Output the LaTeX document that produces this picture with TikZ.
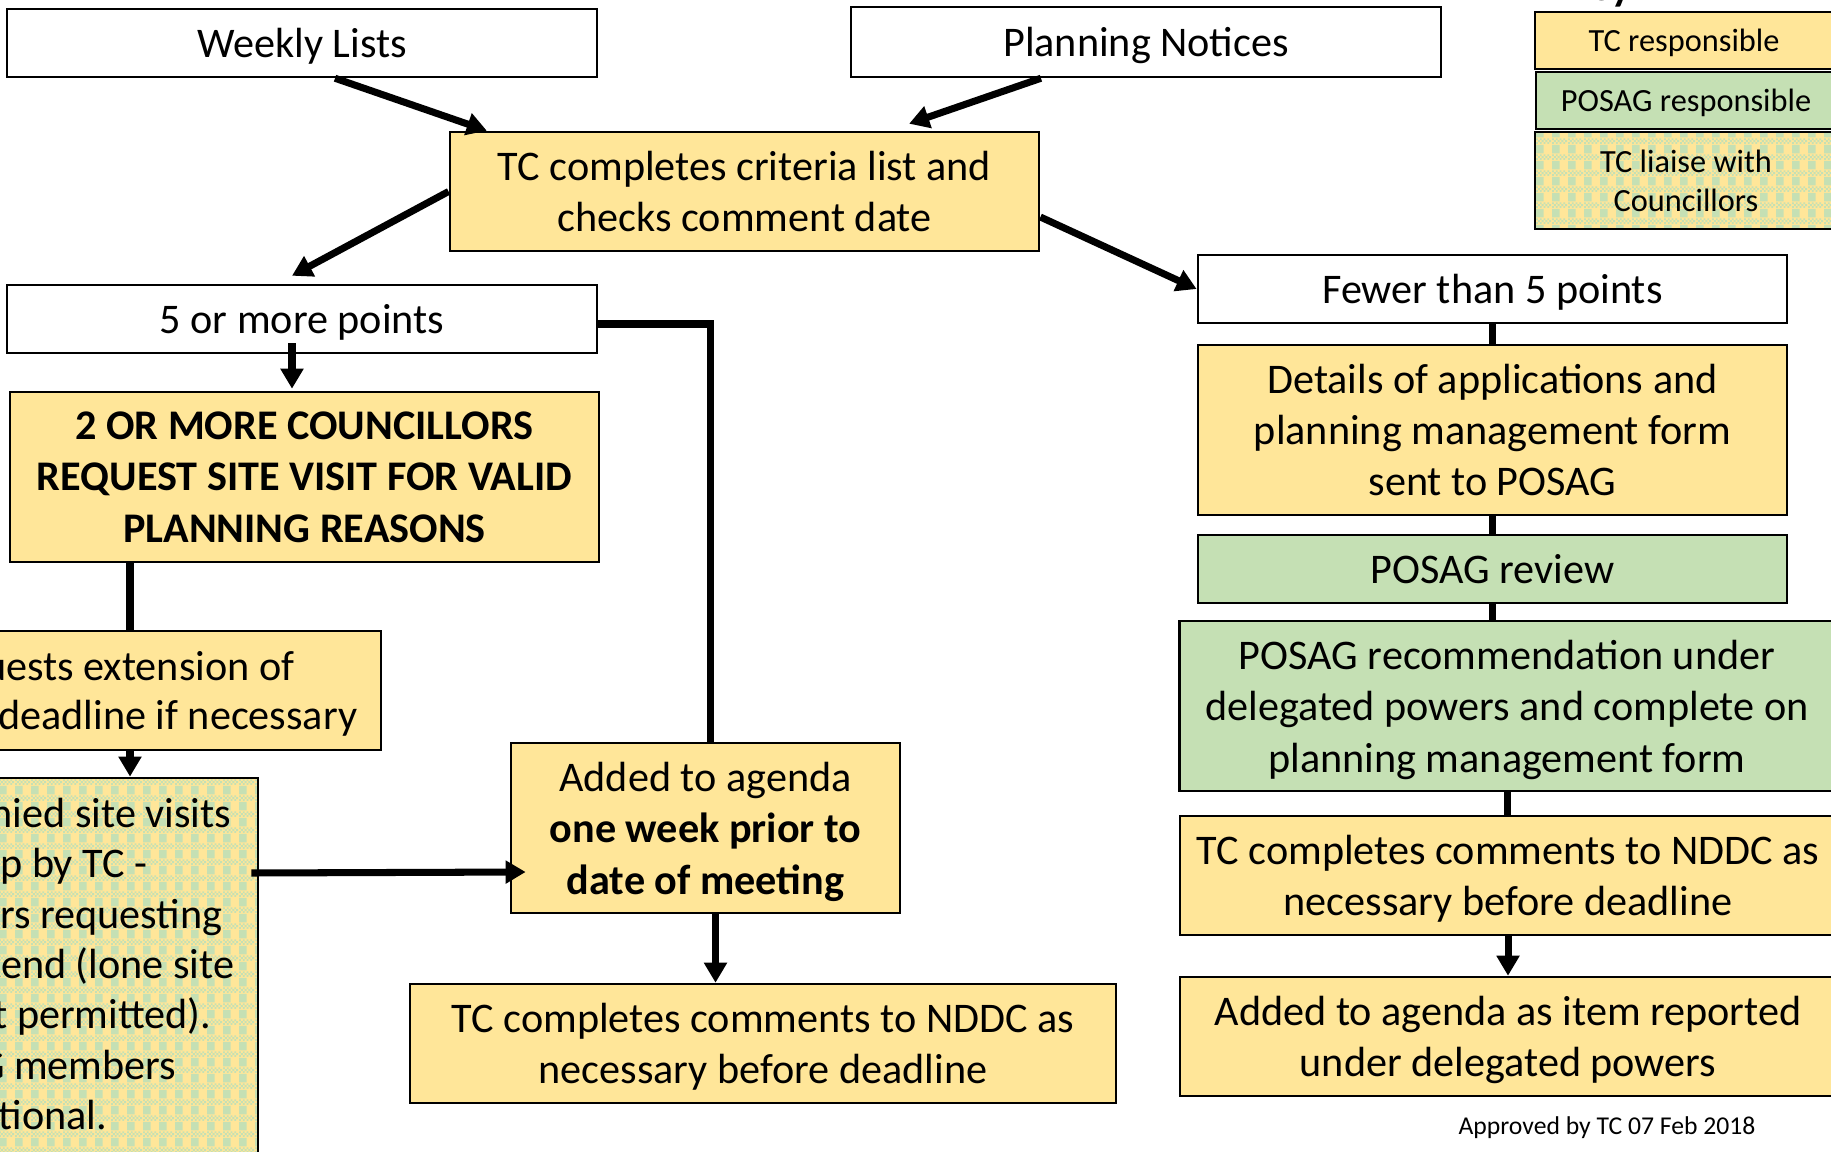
\documentclass[tikz,border=0pt]{standalone}
\usepackage{fontspec}
\setmainfont{Carlito}
\usetikzlibrary{arrows.meta,calc,patterns}

\definecolor{tcyellow}{HTML}{FFE699}
\definecolor{posaggreen}{HTML}{C5E0B4}

% yellow/green plaid for the liaise boxes
\pgfdeclarepatternformonly{plaid}{\pgfpointorigin}{\pgfpoint{0.16cm}{0.16cm}}{\pgfpoint{0.16cm}{0.16cm}}{%
  \pgfpathrectangle{\pgfpoint{0cm}{0.07cm}}{\pgfpoint{0.08cm}{0.09cm}}\pgfusepath{fill}%
  \foreach \x/\xx in {0/0.02,0.04/0.06,0.08/0.1,0.12/0.14}{%
    \pgfpathrectangle{\pgfpoint{\x cm}{0cm}}{\pgfpoint{0.02cm}{0.02cm}}%
    \pgfpathrectangle{\pgfpoint{\xx cm}{0.02cm}}{\pgfpoint{0.02cm}{0.02cm}}%
    \pgfpathrectangle{\pgfpoint{\x cm}{0.04cm}}{\pgfpoint{0.02cm}{0.02cm}}%
    \pgfusepath{fill}}}

\tikzset{
  box/.style={draw, line width=0.7pt, inner sep=0pt, align=center, text depth=0pt, font=\fontsize{12}{14.6}\selectfont},
  plainbox/.style={box, fill=white},
  tcbox/.style={box, fill=tcyellow},
  posagbox/.style={box, fill=posaggreen},
  liaisebox/.style={box, preaction={fill=tcyellow}, pattern=plaid, pattern color=posaggreen},
  keybox/.style={font=\fontsize{9.2}{11.2}\selectfont},
  frag/.style={anchor=base east, inner sep=0pt, font=\fontsize{12}{14.6}\selectfont},
  link/.style={line width=2pt},
  arrow/.style={link, -{Triangle[length=0.2cm, width=0.22cm]}}
}

\begin{document}
\begin{tikzpicture}[x=0.01cm, y=-0.01cm]
\useasboundingbox (0,0) rectangle (1831,1152);

% sources
\node[plainbox, minimum width=5.90cm, minimum height=0.68cm] (weekly) at (302,43) {Weekly Lists};
\node[plainbox, minimum width=5.90cm, minimum height=0.70cm] (notices) at (1146,42) {Planning Notices};
\node[tcbox, minimum width=5.89cm, minimum height=1.19cm] (criteria) at (744.5,191.5) {TC completes criteria list and\\checks comment date};

% 5 or more points
\node[plainbox, minimum width=5.90cm, minimum height=0.68cm] (five) at (302,319) {5 or more points};
\node[tcbox, minimum width=5.89cm, minimum height=1.70cm, font=\fontsize{12}{14.6}\selectfont\bfseries] (councils) at (304.5,477) {2 OR MORE COUNCILLORS\\REQUEST SITE VISIT FOR VALID\\PLANNING REASONS};
\node[tcbox, minimum width=5.02cm, minimum height=1.19cm] (extension) at (130,690.5) {};
\node[liaisebox, minimum width=4.18cm, minimum height=4.22cm] (visits) at (49,989) {};
\foreach \txt/\xr/\yb [count=\k] in {{uests extension of}/295/680, {deadline if necessary}/358/729}
  \node[frag] (ext\k) at (\xr,\yb) {\txt};
\foreach \txt/\xr/\yb [count=\k] in {{nied site visits}/232/827, {p by TC -}/148/877, {rs requesting}/223/928,
    {tend (lone site}/235/978, {t permitted).}/212/1028, {G members}/177/1079, {tional.}/108/1129}
  \node[frag] (vis\k) at (\xr,\yb) {\txt};
\node[tcbox, minimum width=3.89cm, minimum height=1.70cm] (agenda) at (705.5,828) {Added to agenda\\\textbf{one week prior to}\\\textbf{date of meeting}};
\node[tcbox, minimum width=7.055cm, minimum height=1.19cm] (nddc) at (763,1043.5) {TC completes comments to NDDC as\\necessary before deadline};

% fewer than 5 points
\node[plainbox, minimum width=5.89cm, minimum height=0.68cm] (fewer) at (1492.5,289) {Fewer than 5 points};
\node[tcbox, minimum width=5.89cm, minimum height=1.70cm] (details) at (1492.5,430) {Details of applications and\\planning management form\\sent to POSAG};
\node[posagbox, minimum width=5.89cm, minimum height=0.68cm] (review) at (1492.5,569) {POSAG review};
\node[posagbox, minimum width=6.55cm, minimum height=1.70cm] (recommend) at (1507,706) {POSAG recommendation under\\delegated powers and complete on\\planning management form};
\node[tcbox, minimum width=6.56cm, minimum height=1.19cm] (nddcright) at (1508,875.5) {TC completes comments to NDDC as\\necessary before deadline};
\node[tcbox, minimum width=6.56cm, minimum height=1.19cm] (reported) at (1508,1036.5) {Added to agenda as item reported\\under delegated powers};
\node[font=\fontsize{7.3}{9}\selectfont, inner sep=0pt, text depth=0pt] (approved) at (1607,1126) {Approved by TC 07 Feb 2018};

% key
\node[anchor=base, inner sep=0pt, font=\fontsize{12}{14.6}\selectfont\bfseries] (key) at (1600,1) {Key};
\node[tcbox, keybox, minimum width=2.98cm, minimum height=0.57cm] (tckey) at (1684,40.5) {TC responsible};
\node[posagbox, keybox, minimum width=3.00cm, minimum height=0.57cm] (posagkey) at (1686,100.5) {POSAG responsible};
\node[liaisebox, keybox, minimum width=3.02cm, minimum height=0.97cm] (liaisekey) at (1686,180.5) {TC liaise with\\Councillors};

% connectors
\draw[arrow] ([xshift=.33cm]weekly.south) -- ([xshift=-2.575cm]criteria.north);
\draw[arrow] ([xshift=-1.05cm]notices.south) -- ([xshift=1.645cm, yshift=.07cm]criteria.north);
\draw[arrow] (criteria.west) -- ([xshift=-.1cm, yshift=.08cm]five.north);
\draw[arrow] ([yshift=-.255cm]criteria.east) -- (fewer.west);
\draw[arrow] ([xshift=-.1cm, yshift=.11cm]five.south) -- ([xshift=-.1cm, yshift=.02cm]five.south |- councils.north);
\draw[link] ([yshift=-.05cm]five.east) -| ([xshift=.05cm]agenda.north);
\draw[link] (extension.north |- councils.south) -- (extension.north);
\draw[arrow] (extension.south) -- (extension.south |- visits.north);
\draw[arrow] ($(visits.east |- agenda.west)+(-8,45)$) -- ($(agenda.west)+(16,44)$);
\draw[arrow] ([xshift=.1cm]agenda.south) -- ([xshift=.1cm]agenda.south |- nddc.north);
\draw[link] (fewer.south) -- (details.north);
\draw[link] (details.south) -- (review.north);
\draw[link] (review.south) -- (review.south |- recommend.north);
\draw[link] (recommend.south) -- (recommend.south |- nddcright.north);
\draw[arrow] (nddcright.south) -- (reported.north);

\end{tikzpicture}
\end{document}
